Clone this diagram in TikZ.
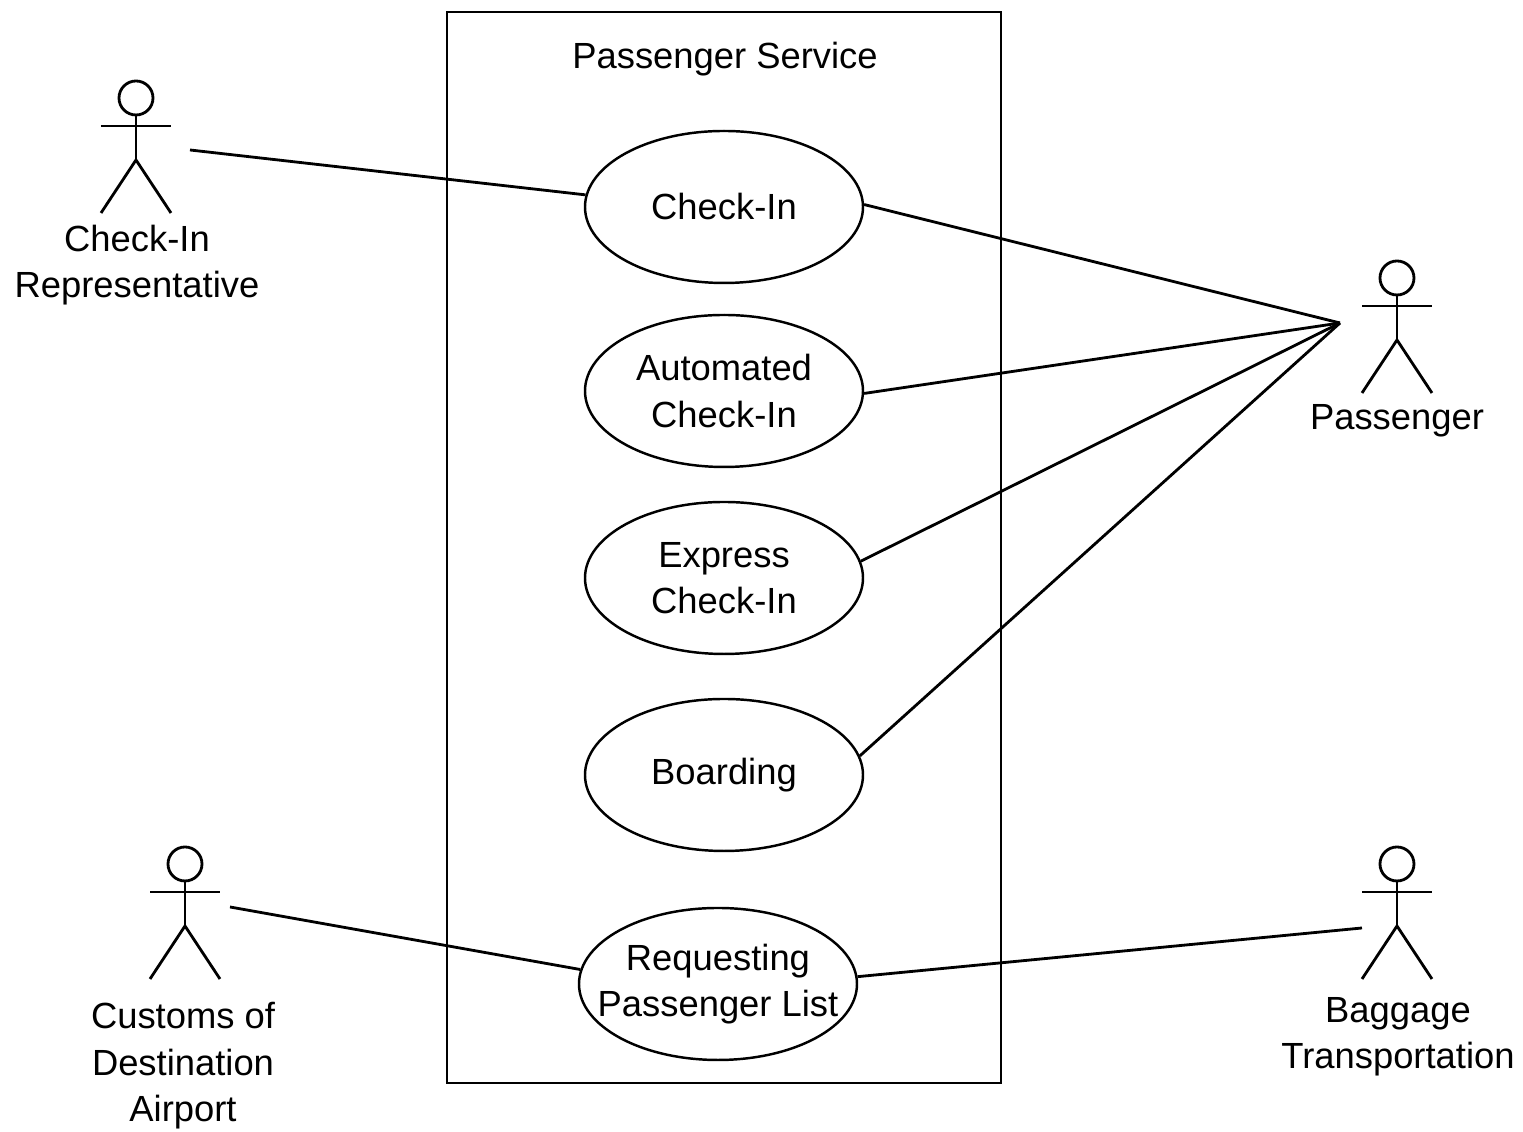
\documentclass[tikz,border=0pt]{standalone}
\usepackage{fontspec}
\setmainfont{Liberation Sans}
\usetikzlibrary{shapes.geometric}
\tikzset{
	usecase/.style={draw, ellipse, line width=0.7pt, minimum width=2.78cm, minimum height=1.52cm, inner sep=0pt, align=center, font=\fontsize{10.35}{13.2}\selectfont},
	actorlabel/.style={align=center, font=\fontsize{10.35}{13.2}\selectfont},
	wire/.style={line width=0.8pt},
	pics/actor/.style={code={
		\draw[line width=0.8pt] (0,0.34) circle [radius=0.17];
		\draw[line width=0.8pt] (0,0.17) -- (0,-0.28);
		\draw[line width=0.8pt] (-0.35,0.06) -- (0.35,0.06);
		\draw[line width=0.8pt] (-0.35,-0.81) -- (0,-0.28) -- (0.35,-0.81);
	}}
}
\begin{document}
\begin{tikzpicture}
	\useasboundingbox (0,0) rectangle (15.23,11.32);
	
	\node[draw, line width=0.8pt, minimum width=5.54cm, minimum height=10.71cm, inner sep=0pt] (service) at (7.24,5.845) {};
	\node[actorlabel] (servicetitle) at (7.25,10.73) {Passenger Service};
	
	\node[usecase] (checkin) at (7.24,9.25) {Check-In};
	\node[usecase] (automated) at (7.24,7.41) {Automated\\Check-In};
	\node[usecase] (express) at (7.24,5.54) {Express\\Check-In};
	\node[usecase] (boarding) at (7.24,3.57) {Boarding};
	\node[usecase, inner xsep=-0.25cm] (requesting) at (7.18,1.48) {Requesting\\Passenger List};
	
	\pic at (1.36,10.00) {actor};
	\pic at (13.97,8.20) {actor};
	\pic at (1.85,2.34) {actor};
	\pic at (13.97,2.34) {actor};
	
	\node[actorlabel] (rep) at (1.37,8.67) {Check-In\\Representative};
	\node[actorlabel] (passenger) at (13.97,7.11) {Passenger};
	\node[actorlabel] (customs) at (1.83,0.66) {Customs of\\Destination\\Airport};
	\node[actorlabel] (baggage) at (13.98,0.95) {Baggage\\Transportation};
	
	\coordinate (repend) at (1.90,9.82);
	\coordinate (passengerend) at (13.40,8.09);
	\coordinate (customsend) at (2.30,2.25);
	\coordinate (baggageend) at (13.62,2.04);
	
	\draw[wire] (repend) -- (checkin.175);
	\draw[wire] (checkin.1) -- (passengerend);
	\draw[wire] (automated.-1) -- (passengerend);
	\draw[wire] (express.7) -- (passengerend);
	\draw[wire] (boarding.8) -- (passengerend);
	\draw[wire] (customsend) -- (requesting.174);
	\draw[wire] (requesting.3) -- (baggageend);
\end{tikzpicture}
\end{document}
